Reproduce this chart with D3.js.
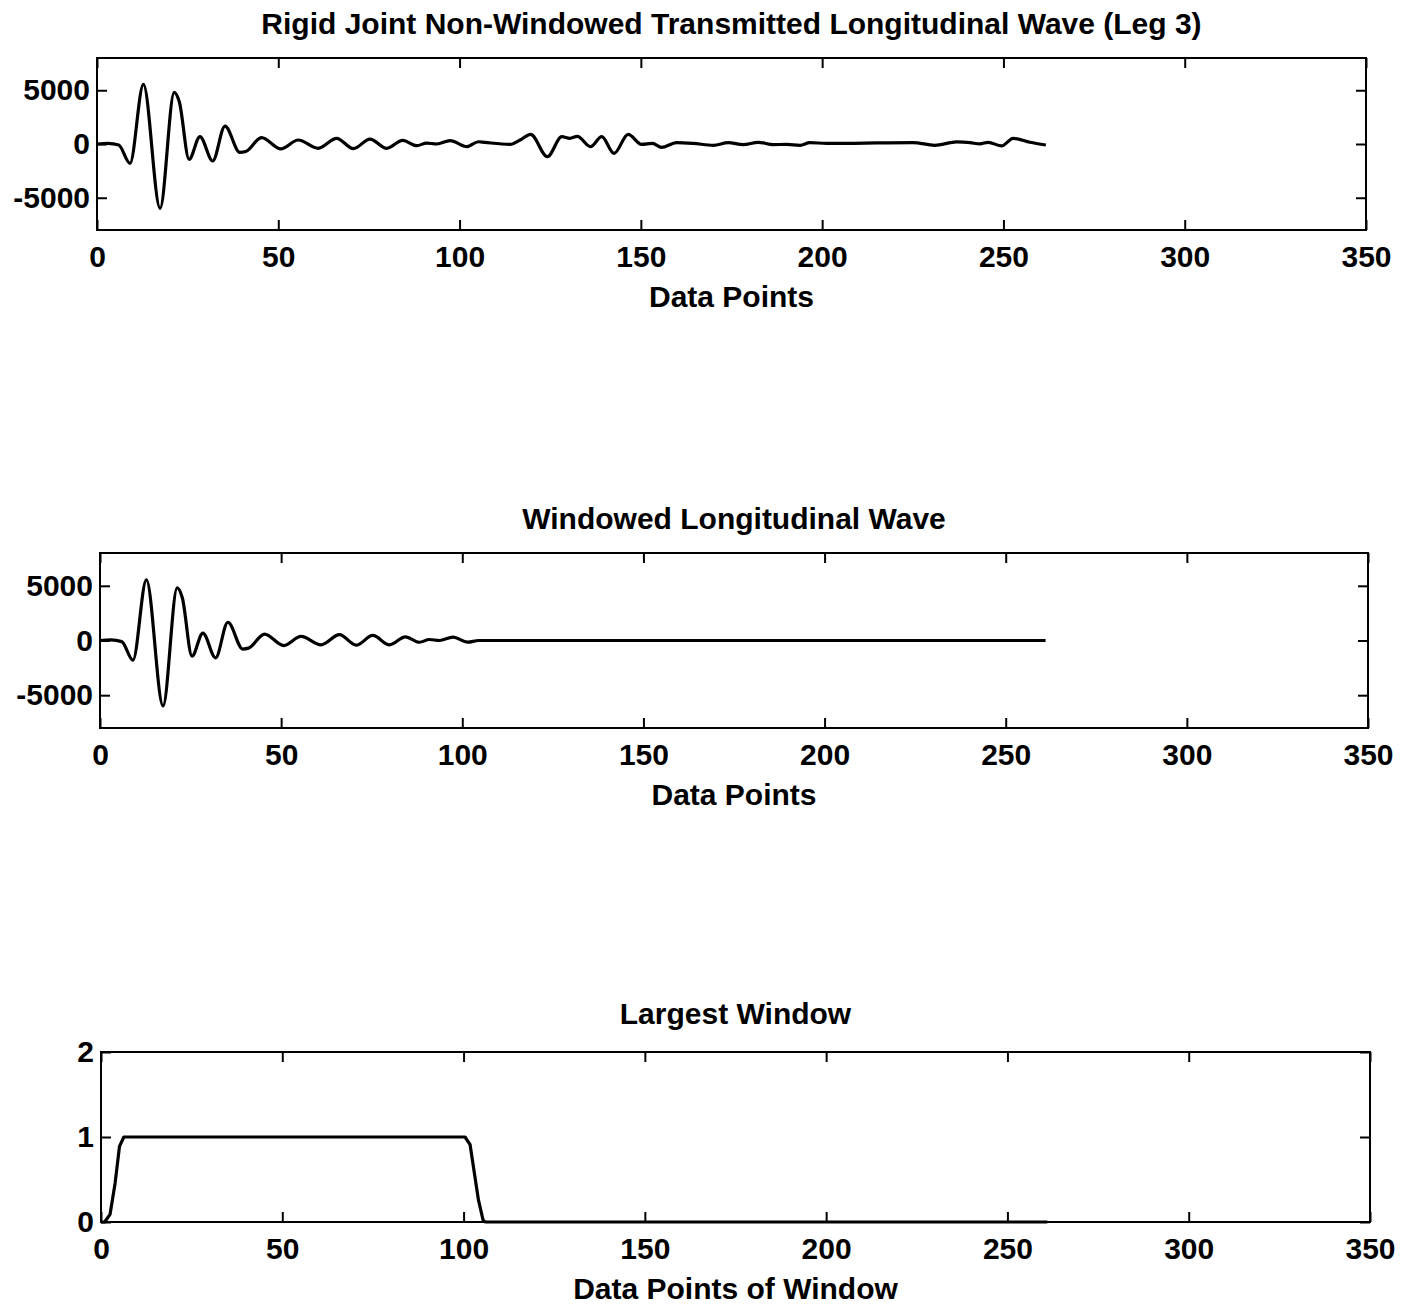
<!DOCTYPE html>
<html>
<head>
<meta charset="utf-8">
<script src="https://cdn.jsdelivr.net/npm/d3@7"></script>
<style>
  body { margin: 0; background: #fff; }
  text { font-family: "Liberation Sans", Arial, Helvetica, sans-serif; font-weight: bold; fill: #000; }
</style>
</head>
<body>
<div id="chart"></div>
<script>
// Transmitted wave (leg 3) at its turning points
const rawX = [0, 3, 6, 9.1, 12.8, 17.4, 21.3, 22.7, 25.4, 28.4, 31.9, 35.3, 39.4, 41, 45.4, 50.7, 55.5, 61, 66.1, 70.7,
  75.3, 79.9, 84.3, 88.2, 90.9, 93.7, 97.4, 102, 105.2, 107, 113.9, 116.7, 119.6, 124.2, 128.2, 130.4, 132.5, 136.1,
  139.2, 142.6, 146.5, 150.2, 153.2, 155.7, 159.9, 164.4, 170, 174.1, 178.2, 182.4, 186.5, 190.2, 193.9, 196.6, 201.2,
  206.7, 215, 225.1, 231, 237.1, 240.8, 243.5, 245.8, 249.5, 252.7, 257.3, 261.7];
const rawY = [0, 50, -100, -1800, 5550, -5980, 4810, 3930, -1430, 680, -1580, 1670, -780, -700, 590, -460, 370, -400, 530, -430,
  460, -400, 340, -160, 90, 0, 310, -250, 210, 150, -30, 370, 900, -1180, 680, 530, 710, -250,
  680, -870, 900, -30, 60, -310, 130, 60, -120, 130, -60, 160, -60, -30, -120, 130, 60,
  60, 100, 130, -120, 190, 130, 10, 160, -180, 530, 160, -90];

// Windowed wave
const winWaveX = [0, 3, 6, 9.1, 12.8, 17.4, 21.3, 22.7, 25.4, 28.4, 31.9, 35.3, 39.4, 41, 45.4, 50.7, 55.5, 61, 66.1, 70.7,
  75.3, 79.9, 84.3, 88.2, 90.9, 93.7, 97.4, 101.5, 104.5, 261];
const winWaveY = [0, 50, -100, -1800, 5550, -5980, 4810, 3930, -1430, 680, -1580, 1670, -780, -700, 590, -460, 370, -400, 530, -430,
  460, -400, 340, -160, 90, 0, 310, -150, 0, 0];

// Largest window
const windowX = [0, 1, 2.5, 3.9, 5.1, 6.3, 100.4, 101.8, 103.1, 104.1, 105.4, 106, 261];
const windowY = [0, 0, 0.09, 0.46, 0.89, 1, 1, 0.91, 0.54, 0.26, 0.02, 0, 0];

const xTicks = [0, 50, 100, 150, 200, 250, 300, 350];
const waveTicks = [-5000, 0, 5000];
const windowTicks = [0, 1, 2];

const titles = ["Rigid Joint Non-Windowed Transmitted Longitudinal Wave (Leg 3)", "Windowed Longitudinal Wave", "Largest Window"];
const xLabels = ["Data Points", "Data Points", "Data Points of Window"];

const W = 1415, H = 1306;
const svg = d3.select("#chart").append("svg").attr("width", W).attr("height", H);

const panels = [
  { left: 97, right: 1366, top: 58, bottom: 230, titleGap: 24, yDomain: [-8000, 8000], yTicks: waveTicks, xs: rawX, ys: rawY, curve: d3.curveMonotoneX },
  { left: 100, right: 1368, top: 553, bottom: 728, titleGap: 24, yDomain: [-8000, 8000], yTicks: waveTicks, xs: winWaveX, ys: winWaveY, curve: d3.curveMonotoneX },
  { left: 101, right: 1370, top: 1052, bottom: 1222, titleGap: 28, yDomain: [0, 2], yTicks: windowTicks, xs: windowX, ys: windowY, curve: d3.curveLinear }
];

const fmt = d => String(d);

panels.forEach((p, i) => {
  const x = d3.scaleLinear().domain([0, 350]).range([p.left, p.right]);
  const y = d3.scaleLinear().domain(p.yDomain).range([p.bottom, p.top]);
  const g = svg.append("g");

  // frame ticks on all four sides, pointing in
  g.append("g").attr("transform", `translate(0,${p.bottom})`)
    .call(d3.axisBottom(x).tickValues(xTicks).tickFormat(fmt).tickSizeInner(-10).tickSizeOuter(0).tickPadding(16))
    .call(a => a.selectAll("text").style("font-size", "30px"));
  g.append("g").attr("transform", `translate(0,${p.top})`)
    .call(d3.axisTop(x).tickValues(xTicks).tickSizeInner(-10).tickSizeOuter(0).tickFormat(""));
  g.append("g").attr("transform", `translate(${p.left},0)`)
    .call(d3.axisLeft(y).tickValues(p.yTicks).tickFormat(fmt).tickSizeInner(-10).tickSizeOuter(0).tickPadding(7))
    .call(a => a.selectAll("text").style("font-size", "30px"));
  g.append("g").attr("transform", `translate(${p.right},0)`)
    .call(d3.axisRight(y).tickValues(p.yTicks).tickSizeInner(-10).tickSizeOuter(0).tickFormat(""));
  g.selectAll(".domain").remove();
  g.selectAll(".tick line").attr("stroke", "#000").attr("stroke-width", 2);

  g.append("rect")
    .attr("x", p.left).attr("y", p.top)
    .attr("width", p.right - p.left).attr("height", p.bottom - p.top)
    .attr("fill", "none").attr("stroke", "#000").attr("stroke-width", 2);

  const pts = p.xs.map((v, k) => [v, p.ys[k]]);
  const line = d3.line().x(d => x(d[0])).y(d => y(d[1])).curve(p.curve);
  g.append("path").datum(pts)
    .attr("d", line)
    .attr("fill", "none").attr("stroke", "#000").attr("stroke-width", 3.2)
    .attr("stroke-linejoin", "round");

  g.append("text")
    .attr("x", (p.left + p.right) / 2).attr("y", p.top - p.titleGap)
    .attr("text-anchor", "middle").style("font-size", "30px")
    .text(titles[i]);

  g.append("text")
    .attr("x", (p.left + p.right) / 2).attr("y", p.bottom + 77)
    .attr("text-anchor", "middle").style("font-size", "30px")
    .text(xLabels[i]);
});
</script>
</body>
</html>
